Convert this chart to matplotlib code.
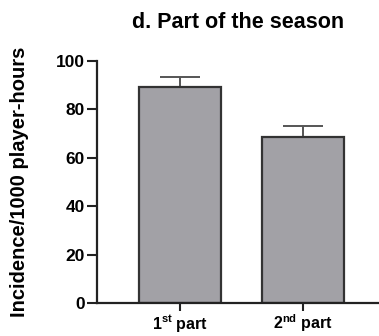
import matplotlib
matplotlib.use("Agg")
import matplotlib.pyplot as plt

categories = ["1$^{\\mathregular{st}}$ part", "2$^{\\mathregular{nd}}$ part"]
values = [89.3, 68.6]
errors = [4.2, 4.5]
yticks = [0, 20, 40, 60, 80, 100]

plt.rcParams['font.family'] = ['Liberation Sans', 'DejaVu Sans']
plt.rcParams['font.weight'] = 'bold'
plt.rcParams['mathtext.fontset'] = 'custom'
plt.rcParams['mathtext.rm'] = 'Liberation Sans:bold'

fig = plt.figure(figsize=(3.79, 3.36), dpi=100)
ax = fig.add_axes([97/379, 33/336, (379-97)/379, 242/336])

x = list(range(len(categories)))
ax.bar(x, values, width=0.667, color='#a2a1a6', edgecolor='#333333', linewidth=1.6, zorder=2)
ax.errorbar(x, values, yerr=[[0]*len(errors), errors], fmt='none', ecolor='#555555',
            elinewidth=1.4, capsize=14.5, capthick=1.4, zorder=1)

ax.set_xlim(-0.675, 1.62)
ax.set_ylim(0, 100)
ax.set_yticks(yticks)
ax.set_xticks(x)
ax.set_xticklabels(categories, fontsize=11.5, fontweight='bold')
ax.tick_params(axis='y', labelsize=12.5, width=1.5, length=7, color='#222222', pad=2)
ax.tick_params(axis='x', width=1.5, length=6, color='#222222', pad=1)
for lab in ax.get_yticklabels():
    lab.set_fontweight('bold')
ax.spines['top'].set_visible(False)
ax.spines['right'].set_visible(False)
ax.spines['left'].set_linewidth(1.6)
ax.spines['bottom'].set_linewidth(1.6)
ax.spines['left'].set_color('#222222')
ax.spines['bottom'].set_color('#222222')

ax.set_ylabel("Incidence/1000 player-hours", fontsize=14.5, fontweight='bold', labelpad=19)
fig.text(238/379, 1 - 23/336, "d. Part of the season", fontsize=15.5, fontweight='bold',
         ha='center', va='center')

fig.savefig("out.png", dpi=100)
